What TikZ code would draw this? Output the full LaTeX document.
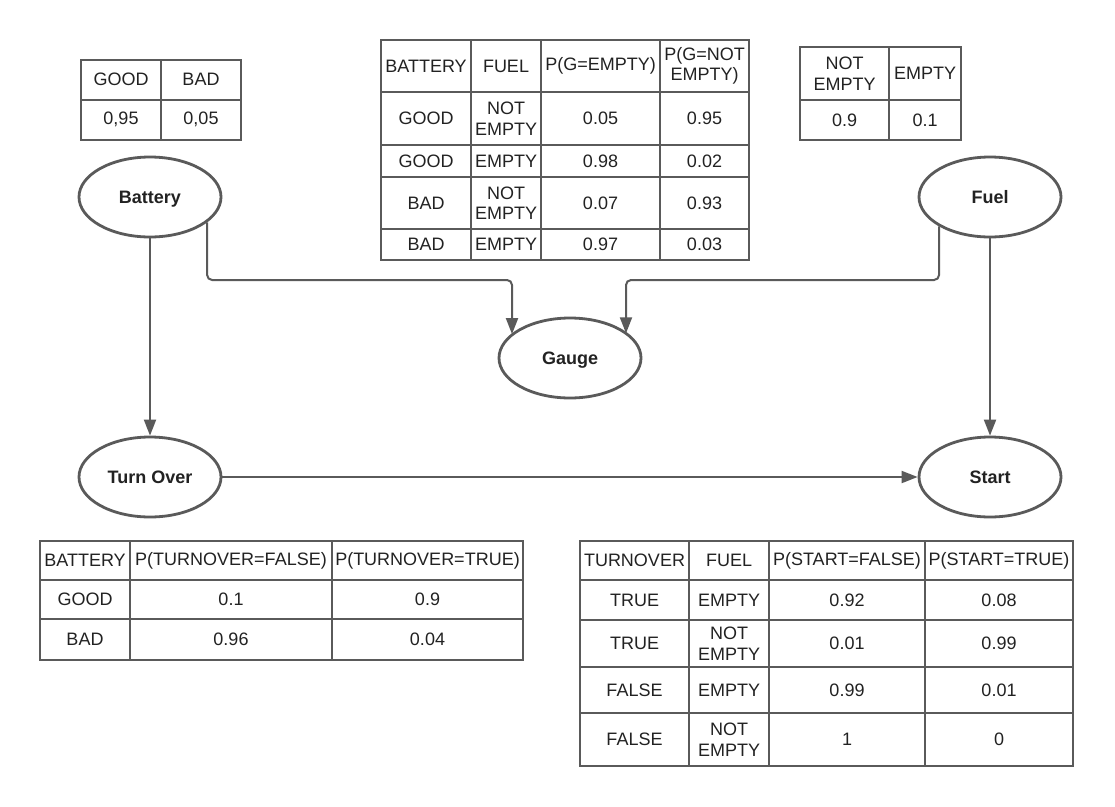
\documentclass[tikz,border=0pt]{standalone}
\usepackage{fontspec}
\setmainfont{Liberation Sans}
\usetikzlibrary{arrows.meta,shapes.geometric,calc}
\definecolor{edge}{HTML}{5A5A5A}
\definecolor{ink}{HTML}{222222}

\begin{document}
\begin{tikzpicture}[x=1pt,y=-1pt,
  grid/.style={draw=edge,line width=2.8pt,line cap=rect},
  cell/.style={text=ink,font=\fontsize{18}{20.5}\selectfont,align=center,inner sep=0pt},
  var/.style={ellipse,draw=edge,line width=2.8pt,minimum width=142pt,minimum height=80pt,
    inner sep=0pt,text height=13pt,text depth=0pt,text=ink,font=\fontsize{18}{20}\selectfont\bfseries},
  link/.style={draw=edge,line width=2pt,rounded corners=5pt,
    -{Triangle[length=16pt,width=12pt]}}]

\fill[white] (0,0) rectangle (1115,806);
\useasboundingbox (0,0) rectangle (1115,806);

% ---- variables ----
\node[var] (battery) at (150,197) {Battery};
\node[var] (fuel)    at (990,197) {Fuel};
\node[var] (gauge)   at (570,358) {Gauge};
\node[var] (turn)    at (150,477) {Turn Over};
\node[var] (start)   at (990,477) {Start};

% ---- dependencies ----
\coordinate (bgbend) at (512,280);
\coordinate (fgbend) at (626,280);
\draw[link] (battery.-24.7) |- (bgbend) -- (bgbend |- gauge.158.4);
\draw[link] (fuel.-150.4) |- (fgbend) -- (fgbend |- gauge.23.7);
\draw[link] (battery.south) -- (turn.north);
\draw[link] (fuel.south) -- (start.north);
\draw[link] (turn.east) -- (start.west);

% ---- P(Battery) ----
\draw[grid] (81,60) rectangle (241,140);
\draw[grid] (81,100) -- (241,100) (161,60) -- (161,140);
\foreach \x/\y/\t [count=\i] in {121/79.5/GOOD,201/79.5/BAD,121/119.5/{0,95},201/119.5/{0,05}}
  \node[cell] (pb-\i) at (\x,\y) {\t};

% ---- P(Gauge | Battery, Fuel) ----
\draw[grid] (381,40) rectangle (749,260);
\draw[grid] (381,92) -- (749,92) (381,145) -- (749,145) (381,177) -- (749,177) (381,229) -- (749,229);
\draw[grid] (471,40) -- (471,260) (541,40) -- (541,260) (660,40) -- (660,260);
\foreach \x/\y/\t [count=\i] in {
  426/66/BATTERY,506/66/FUEL,600.5/66/{P(G=EMPTY)},704.5/66/{P(G=NOT\\EMPTY)},
  426/118.5/GOOD,506/118.5/{NOT\\EMPTY},600.5/118.5/0.05,704.5/118.5/0.95,
  426/161/GOOD,506/161/EMPTY,600.5/161/0.98,704.5/161/0.02,
  426/203/BAD,506/203/{NOT\\EMPTY},600.5/203/0.07,704.5/203/0.93,
  426/244.5/BAD,506/244.5/EMPTY,600.5/244.5/0.97,704.5/244.5/0.03}
  \node[cell] (pg-\i) at (\x,\y) {\t};

% ---- P(Fuel) ----
\draw[grid] (800,47) rectangle (961,140);
\draw[grid] (800,100) -- (961,100) (889,47) -- (889,140);
\foreach \x/\y/\t [count=\i] in {844.5/73.5/{NOT\\EMPTY},925/73.5/EMPTY,844.5/120/0.9,925/120/0.1}
  \node[cell] (pf-\i) at (\x,\y) {\t};

% ---- P(TurnOver | Battery) ----
\draw[grid] (40,541) rectangle (523,660);
\draw[grid] (40,580) -- (523,580) (40,619) -- (523,619);
\draw[grid] (130,541) -- (130,660) (332,541) -- (332,660);
\foreach \x/\y/\t [count=\i] in {
  85/560.5/BATTERY,231/560.5/{P(TURNOVER=FALSE)},427.5/560.5/{P(TURNOVER=TRUE)},
  85/599.5/GOOD,231/599.5/0.1,427.5/599.5/0.9,
  85/639.5/BAD,231/639.5/0.96,427.5/639.5/0.04}
  \node[cell] (pt-\i) at (\x,\y) {\t};

% ---- P(Start | TurnOver, Fuel) ----
\draw[grid] (580,541) rectangle (1073,766);
\draw[grid] (580,580) -- (1073,580) (580,620) -- (1073,620) (580,667) -- (1073,667) (580,713) -- (1073,713);
\draw[grid] (689,541) -- (689,766) (769,541) -- (769,766) (925,541) -- (925,766);
\foreach \x/\y/\t [count=\i] in {
  634.5/560.5/TURNOVER,729/560.5/FUEL,847/560.5/{P(START=FALSE)},999/560.5/{P(START=TRUE)},
  634.5/600/TRUE,729/600/EMPTY,847/600/0.92,999/600/0.08,
  634.5/643.5/TRUE,729/643.5/{NOT\\EMPTY},847/643.5/0.01,999/643.5/0.99,
  634.5/690/FALSE,729/690/EMPTY,847/690/0.99,999/690/0.01,
  634.5/739.5/FALSE,729/739.5/{NOT\\EMPTY},847/739.5/1,999/739.5/0}
  \node[cell] (ps-\i) at (\x,\y) {\t};
\end{tikzpicture}
\end{document}
